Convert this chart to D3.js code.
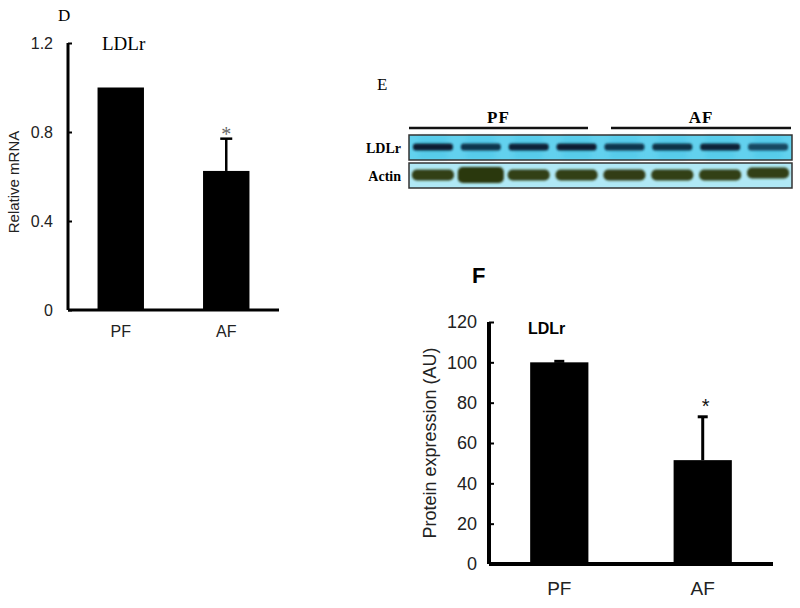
<!DOCTYPE html>
<html><head><meta charset="utf-8">
<script src="https://cdn.jsdelivr.net/npm/d3@7"></script>
<style>body{margin:0;background:#fff}svg{display:block}</style>
</head><body>
<script>
// ---- data ----
const categories = ["PF", "AF"];
const significance = ["", "*"];
const mrnaValues = [1.0, 0.625];
const mrnaErrors = [0, 0.145];
const mrnaTicks = [0, 0.4, 0.8, 1.2];
const proteinValues = [100, 51.5];
const proteinErrors = [0.5, 21.5];
const proteinTicks = [0, 20, 40, 60, 80, 100, 120];
const lanes = [1, 2, 3, 4, 5, 6, 7, 8];
const laneGroups = ["PF", "PF", "PF", "PF", "AF", "AF", "AF", "AF"];
const ldlrBand = [0.95, 0.75, 0.9, 0.95, 0.75, 0.8, 0.9, 0.6];
const actinBand = [0.85, 1.0, 0.85, 0.85, 0.9, 0.85, 0.85, 0.85];

const svg = d3.select("body").append("svg").attr("width", 800).attr("height", 608);

function barChart(opt) {
  const g = svg.append("g");
  const x = d3.scaleBand().domain(categories).range(opt.xr).paddingInner(opt.pi).paddingOuter(opt.po);
  const y = d3.scaleLinear().domain(opt.domain).range(opt.yr);
  g.selectAll("rect.bar").data(categories).join("rect")
    .attr("x", d => x(d)).attr("width", x.bandwidth())
    .attr("y", (d, i) => y(opt.values[i]))
    .attr("height", (d, i) => y(0) - y(opt.values[i]))
    .attr("fill", "#000");
  categories.forEach((c, i) => {
    const cx = x(c) + x.bandwidth() / 2;
    const top = y(opt.values[i] + opt.errors[i]);
    if (opt.errors[i] > 0) {
      g.append("line").attr("x1", cx).attr("x2", cx).attr("y1", y(opt.values[i])).attr("y2", top)
        .attr("stroke", "#000").attr("stroke-width", opt.ew);
      g.append("line").attr("x1", cx - opt.cap).attr("x2", cx + opt.cap).attr("y1", top).attr("y2", top)
        .attr("stroke", "#000").attr("stroke-width", opt.ew);
    }
    if (significance[i]) {
      g.append("text").attr("x", cx + opt.starDx).attr("y", top - opt.starDy).attr("text-anchor", "middle")
        .attr("font-family", opt.starFont).attr("font-size", opt.starSize).attr("fill", opt.starColor).text(significance[i]);
    }
  });
  const ya = g.append("g").attr("transform", `translate(${opt.xr[0]},0)`)
    .call(d3.axisLeft(y).tickValues(opt.ticks).tickSize(-opt.tick).tickPadding(opt.tp).tickFormat(opt.fmt));
  ya.select(".domain").attr("d", `M0,${opt.yr[1]}V${opt.yr[0]}`).attr("stroke-width", opt.aw);
  ya.selectAll(".tick line").attr("stroke-width", 2);
  ya.selectAll("text").attr("font-family", "Liberation Sans, Arial, sans-serif").attr("font-size", opt.fs).attr("fill", "#222");
  const xa = g.append("g").attr("transform", `translate(0,${opt.yr[0]})`)
    .call(d3.axisBottom(x).tickSize(0).tickPadding(opt.xtp));
  xa.select(".domain").attr("d", `M${opt.xr[0]},0H${opt.xr[1]}`).attr("stroke-width", opt.aw);
  xa.selectAll("text").attr("font-family", "Liberation Sans, Arial, sans-serif").attr("font-size", opt.xfs).attr("fill", "#222");
  g.append("text").attr("transform", `translate(${opt.ylx},${opt.yly}) rotate(-90)`)
    .attr("text-anchor", "middle").attr("font-family", "Liberation Sans, Arial, sans-serif")
    .attr("font-size", opt.ylfs).attr("fill", "#222").text(opt.ylabel);
  return g;
}

// ---- Panel D ----
barChart({
  xr: [68, 279], yr: [310, 43], pi: 0.56, po: 0.28, domain: [0, 1.2],
  values: mrnaValues, errors: mrnaErrors, ticks: mrnaTicks, fmt: d => d === 0 ? "0" : d3.format(".1f")(d),
  ew: 2.5, cap: 6, starDx: 0, starDy: -2, starFont: "Liberation Serif, serif", starSize: 20, starColor: "#666",
  tick: 4, tp: 15, aw: 3, fs: 16, xfs: 16, xtp: 16,
  ylx: 19, yly: 182, ylfs: 15, ylabel: "Relative mRNA"
});
svg.append("text").attr("x", 58).attr("y", 21).attr("font-family", "Liberation Serif, serif").attr("font-size", 17).text("D");
svg.append("text").attr("x", 102).attr("y", 50).attr("font-family", "Liberation Serif, serif").attr("font-size", 19).text("LDLr");

// ---- Panel F ----
barChart({
  xr: [489, 773], yr: [564, 322], pi: 0.594, po: 0.287, domain: [0, 120],
  values: proteinValues, errors: proteinErrors, ticks: proteinTicks, fmt: d3.format("d"),
  ew: 3, cap: 5, starDx: 3, starDy: 4, starFont: "Liberation Sans, Arial, sans-serif", starSize: 20, starColor: "#111",
  tick: 5, tp: 12, aw: 4, fs: 18, xfs: 19, xtp: 18,
  ylx: 436, yly: 443, ylfs: 18, ylabel: "Protein expression (AU)"
});
svg.append("text").attr("x", 472).attr("y", 283).attr("font-family", "Liberation Sans, Arial, sans-serif").attr("font-weight", "bold").attr("font-size", 22).text("F");
svg.append("text").attr("x", 528).attr("y", 334).attr("font-family", "Liberation Sans, Arial, sans-serif").attr("font-weight", "bold").attr("font-size", 16).text("LDLr");

// ---- Panel E (blot) ----
const defs = svg.append("defs");
defs.append("filter").attr("id", "blur1").attr("x", "-20%").attr("y", "-80%").attr("width", "140%").attr("height", "260%")
  .append("feGaussianBlur").attr("stdDeviation", "1.3 1.1");
defs.append("filter").attr("id", "blur2").attr("x", "-30%").attr("y", "-80%").attr("width", "160%").attr("height", "260%")
  .append("feGaussianBlur").attr("stdDeviation", "2.5 2");

const serif = "Liberation Serif, 'Times New Roman', serif";
svg.append("text").attr("x", 377).attr("y", 90).attr("font-family", serif).attr("font-size", 17).text("E");
const lx = d3.scaleBand().domain(lanes).range([409, 792]);
const groupExtent = { PF: [409, 588], AF: [611, 791] };
Object.entries(groupExtent).forEach(([k, [a, b]]) => {
  svg.append("line").attr("x1", a).attr("x2", b).attr("y1", 128).attr("y2", 128).attr("stroke", "#111").attr("stroke-width", 2.5);
  svg.append("text").attr("x", (a + b) / 2).attr("y", 123).attr("text-anchor", "middle").attr("font-family", serif)
    .attr("font-weight", "bold").attr("font-size", 17).attr("letter-spacing", 1).text(k);
});
svg.append("rect").attr("x", 409).attr("y", 135).attr("width", 383).attr("height", 25).attr("fill", "#62d1ee");
svg.append("rect").attr("x", 409).attr("y", 163).attr("width", 383).attr("height", 25).attr("fill", "#b0e8f5");
lanes.forEach(l => {
  svg.append("rect").attr("x", lx(l) + lx.bandwidth() * 0.2).attr("y", 136).attr("width", lx.bandwidth() * 0.6).attr("height", 23)
    .attr("fill", "#4cc6e6").attr("opacity", 0.5).attr("filter", "url(#blur2)");
});
const bandsG = svg.append("g");
lanes.forEach((l, i) => {
  const cx = lx(l) + lx.bandwidth() / 2;
  const w = 40;
  bandsG.append("rect").attr("x", cx - w / 2).attr("y", 147 - 3.5).attr("width", w).attr("height", 7).attr("rx", 3)
    .attr("fill", d3.interpolateRgb("#2a8fb5", "#06182a")(ldlrBand[i])).attr("filter", "url(#blur1)");
  const aw = i === 1 ? 46 : 42;
  const ah = i === 1 ? 16 : 11;
  bandsG.append("rect").attr("x", cx - aw / 2).attr("y", 175 - ah / 2 + (i === 7 ? -2 : 0)).attr("width", aw).attr("height", ah).attr("rx", 5)
    .attr("fill", d3.interpolateRgb("#5a6e2c", "#2c3810")(actinBand[i])).attr("filter", "url(#blur1)");
});
svg.append("rect").attr("x", 409).attr("y", 135).attr("width", 383).attr("height", 25).attr("fill", "none").attr("stroke", "#333").attr("stroke-width", 1.5);
svg.append("rect").attr("x", 409).attr("y", 163).attr("width", 383).attr("height", 25).attr("fill", "none").attr("stroke", "#333").attr("stroke-width", 1.5);
svg.append("text").attr("x", 401).attr("y", 153).attr("text-anchor", "end").attr("font-family", serif).attr("font-weight", "bold").attr("font-size", 14).text("LDLr");
svg.append("text").attr("x", 401).attr("y", 181).attr("text-anchor", "end").attr("font-family", serif).attr("font-weight", "bold").attr("font-size", 14).text("Actin");
</script>
</body></html>
